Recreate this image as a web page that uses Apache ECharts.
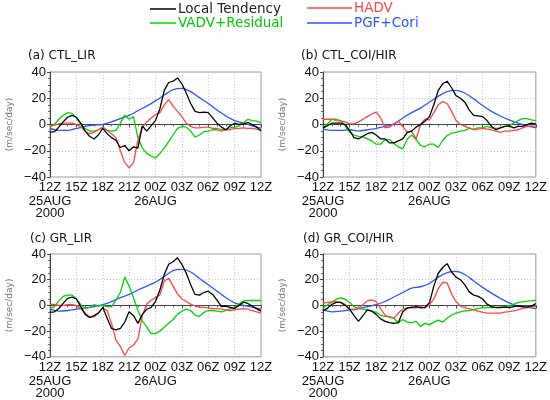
<!DOCTYPE html>
<html>
<head>
<meta charset="utf-8">
<script src="https://cdn.jsdelivr.net/npm/echarts@6.0.0/dist/echarts.min.js"></script>
<style>
html, body { margin: 0; padding: 0; background: #fff; }
#container { width: 550px; height: 400px; }
</style>
</head>
<body>
<div id="container"></div>
<script>
// time axis: hours after 12Z 25AUG 2000
var hoursHalf = [0,0.5,1,1.5,2,2.5,3,3.5,4,4.5,5,5.5,6,6.5,7,7.5,8,8.5,9,9.5,10,10.5,11,11.5,
                 12,12.5,13,13.5,14,14.5,15,15.5,16,16.5,17,17.5,18,18.5,19,19.5,20,20.5,21,21.5,
                 22,22.5,23,23.5,24];
var hoursFull = [0,1,2,3,4,5,6,7,8,9,10,11,12,13,14,15,16,17,18,19,20,21,22,23,24];
var timeLabels = ['12Z', '15Z', '18Z', '21Z', '00Z', '03Z', '06Z', '09Z', '12Z'];
var dateLabels = ['25AUG\n2000', '26AUG', ''];
var seriesNames = ['Local Tendency', 'HADV', 'VADV+Residual', 'PGF+Cori'];
var seriesColors = ['#000000', '#ff4646', '#00d400', '#2f55ff'];
var panelTitles = ['(a) CTL_LIR', '(b) CTL_COI/HIR', '(c) GR_LIR', '(d) GR_COI/HIR'];

//------------------- (a) CTL_LIR -------------------
var aLocal = [-6,-5.5,-2,2,5.5,7,5.5,1,-5,-9,-11,-8,-3,-7,-10,-12,-17.5,-16,-20,-17,-18,-1,-5,-1,
              3,12,26,32,33,35.5,31,24,16,10,9,9.5,9,5,1,-2,-4,-1,1,0,0.5,1.5,0,-2,-5];
var aHadv  = [-1,-0.5,0.5,1,1,1,0,-2,-5,-7,-6,-4,-2,-4.5,-7,-10,-20,-29,-33,-29,-12,-2,2,5,
              7.5,9,15,19,14,10,6,1,-1.5,-2.5,-2.5,-2,-2,-3,-3,-4,-4,-4,-3,-3,-2.5,-3,-3,-3.5,-4];
var aVadv  = [-2,0,4,7,9,8.5,5,0,-3,-5,-5,-4,-2.5,-4.5,-5,-4.5,1,7,4,6,-10,-18,-22,-24,
              -25.5,-22,-18,-13,-8,-3,-1.5,-2,-5,-9.5,-8,-5.5,-5,-4,-4,-5,-4,-2.5,-2,-1,1,4,3,2.5,1.5];
var aPgf   = [-3,-4.5,-4.5,-3,-1.5,-0.5,0,2,4.5,7,10.5,14,18,22.5,26.5,27.5,25,20.5,16,11,6.5,3,1,-1,-3];

//------------------- (b) CTL_COI/HIR -------------------
var bLocal = [-2.5,-1,1,1,1,0,-4.5,-10,-11,-9,-7,-6,-8,-11,-11,-14,-14,-12.5,-11,-6,-5,-2,0,2.5,
              6,15,26,31,33,28,22,20,17,11,7,6.5,6,3,-1.5,-4,-2.5,-1.5,-1,-2.5,-1.5,-1.5,0,1,0.5];
var bHadv  = [4,4,4,3,2.5,2,0.5,0.5,2,4,6,8,9.5,5,-2.5,-2,0.5,2.5,-1.5,-6,-5,-11,0,4,
              3.5,9,15,17.5,16,10,3,0,-1.5,-2.5,-4,-3.5,-3,-3.5,-4,-5,-6,-5,-5,-4.5,-4,-2.5,-1.5,-1,-1.5];
var bVadv  = [-2.5,0.5,4,4,3,-1,-6,-8,-9,-9.5,-11,-12.5,-15,-15,-11.5,-11.5,-14.5,-17,-18.5,-11,-8,-11.5,-16,-17,
              -15,-15,-17.5,-12,-8.5,-6.5,-6,-5,-4.5,-3,-3.5,-2.5,-2.5,-1.5,-2.5,-3,-2.5,-1.5,-1,1,3,4.5,4.5,3.5,3];
var bPgf   = [-3.5,-4.5,-4.5,-4,-5,-4,-3,-1.5,0.5,5,9,12.5,17,21.5,25,26,24,19.5,14.5,10,6.5,3.5,1,-1,-2.5];

//------------------- (c) GR_LIR -------------------
var cLocal = [-5.5,-5,-2.5,1.5,5.5,6.5,5,-1,-7,-9.5,-8,-6,-1.5,-10,-18,-19,-18,-13,-5,-8,-14,-7,-3,-1.5,
              3,12,24,32,34,37,32,25,16,8.5,8,10,11,8.5,4,-1,-0.5,-1.5,-2.5,0,2.5,1.5,-0.5,-2.5,-4.5];
var cHadv  = [0.8,0.8,0,0,0.5,0.5,0,-2.5,-6,-9,-9,-6,-2,-4,-14,-27,-32,-39,-33,-31,-26,-8,1,4,
              6,8,19,21,15,9,5,3,1,-0.5,-1.5,-1.5,-2,-2.5,-2.5,-3,-3.5,-4,-3.5,-3,-2.5,-3,-4,-5,-6];
var cVadv  = [-2.5,-1,3.5,7,8,8,5,0.5,-2.5,-1.5,0.5,-0.5,0,-1,-1,4,10,22,15,6,-4,-12,-17,-22,
              -22,-20,-17,-14,-11,-7,-4.5,-3,-4,-7.5,-8.5,-5.5,-4,-4,-4.5,-5,-4,-2.5,-1.5,1,3.5,3.8,3.8,3.8,3.8];
var cPgf   = [-3,-4.5,-4,-3,-2,-1,0.5,3,6,8.5,12,15,18,22.5,27,28,26,21,16,11,6,2,0,-1.5,-3];

//------------------- (d) GR_COI/HIR -------------------
var dLocal = [-4.3,-2.3,0.8,2.3,2.3,0,-3,-8,-12.5,-8,-3.5,-4.5,-7,-10.5,-12.5,-13.5,-14,-13.5,-5,-2,-1.5,-1,-2,-1.5,
              2,15,25,29.5,32.5,26,22,20,16,10.5,8,7,5,1,-1,-1.8,-1.8,-1.3,-1.8,-1,-0.3,-1,-1.3,-0.5,1.5];
var dHadv  = [1.5,2.3,2.8,3,2.3,0.8,-2.8,-3.5,-2.5,0.5,3.5,4.3,3,-2.5,-7.5,-9.5,-10,-6,-3,-2,-1.8,-2,-1,-2,
              0.3,5,13,18,17.5,9,3,-0.5,-2,-2.5,-3.5,-4.5,-5.5,-6,-6,-6,-6,-5.3,-4.8,-4.3,-3.5,-2.3,-1.8,-1,-1];
var dVadv  = [-2.3,0.3,2.8,4.8,5.8,4.8,2.3,-1,-2.5,-3,-3.5,-4.3,-5.5,-7.5,-8.5,-8.5,-10,-13.5,-11,-13,-13.5,-12.5,-16.5,-14,
              -15,-13,-11.5,-13,-10,-7.5,-6,-5,-4.2,-4,-3.3,-2.3,-1.8,-1.8,-1.8,-1.3,-1.3,-1,-0.3,0.8,2.3,2.8,3.3,3.5,4];
var dPgf   = [-3.5,-5,-4.5,-3.5,-2.5,-1,0.5,3,6.5,10,13.5,14.5,17,22,25.5,26.5,24,19,14,9.5,5.5,2,-0.5,-1.5,-2.5];

var panelData = [
    [aLocal, aHadv, aVadv, aPgf],
    [bLocal, bHadv, bVadv, bPgf],
    [cLocal, cHadv, cVadv, cPgf],
    [dLocal, dHadv, dVadv, dPgf]
];

function toPairs(hours, vals) {
    var res = [];
    for (var i = 0; i < vals.length; i++) {
        res.push([hours[i], vals[i]]);
    }
    return res;
}

var dom = document.getElementById('container');
var myChart = echarts.init(dom, null, { renderer: 'canvas' });
var baseFont = 'DejaVu Sans';
var tickFont = 'Liberation Sans';

// grid boxes (left, top, width, height)
var gridBoxes = [
    { left: 50, top: 72, width: 211, height: 105 },
    { left: 323, top: 72, width: 213, height: 105 },
    { left: 50, top: 254, width: 211, height: 106 },
    { left: 323, top: 254, width: 214, height: 107 }
];
var titlePos = [
    { left: 28, top: 50 },
    { left: 301, top: 50 },
    { left: 30, top: 233 },
    { left: 303, top: 233 }
];

var grids = [], xAxes = [], dateAxes = [], yAxes = [], series = [], titles = [];
for (var p = 0; p < 4; p++) {
    var g = gridBoxes[p];
    grids.push({
        left: g.left, top: g.top, width: g.width, height: g.height,
        show: true, borderColor: '#9a9a9a', borderWidth: 1, backgroundColor: 'transparent'
    });
    titles.push({
        text: panelTitles[p],
        left: titlePos[p].left, top: titlePos[p].top, padding: 0,
        textStyle: { fontFamily: baseFont, fontSize: 12, fontWeight: 'normal', color: '#111' }
    });
    xAxes.push({
        type: 'value', gridIndex: p, min: 0, max: 24, interval: 3,
        axisLine: { show: true, lineStyle: { color: '#444', width: 1 } },
        axisTick: { show: true, length: 3, lineStyle: { color: '#444' } },
        minorTick: { show: true, splitNumber: 3, length: 2, lineStyle: { color: '#666' } },
        splitLine: { show: true, lineStyle: { color: '#c8c8c8', type: [1, 2], width: 1 } },
        axisLabel: {
            fontFamily: tickFont, fontSize: 13, color: '#111', margin: 4,
            showMinLabel: true, showMaxLabel: true, hideOverlap: false,
            formatter: function (v) { return timeLabels[Math.round(v / 3)]; }
        }
    });
    // second row of labels: dates
    dateAxes.push({
        type: 'value', gridIndex: p, min: 0, max: 24, interval: 12, position: 'bottom',
        axisLine: { show: false }, axisTick: { show: false }, splitLine: { show: false },
        axisLabel: {
            fontFamily: tickFont, fontSize: 13, color: '#111', margin: 18, lineHeight: 12.5,
            showMinLabel: true, showMaxLabel: true, hideOverlap: false,
            formatter: function (v) { return dateLabels[Math.round(v / 12)]; }
        }
    });
    yAxes.push({
        type: 'value', gridIndex: p, min: -40, max: 40, interval: 20,
        name: '(m/sec/day)', nameLocation: 'middle', nameGap: 36, nameRotate: 90,
        nameTextStyle: { fontFamily: baseFont, fontSize: 9, color: '#777' },
        axisLine: { show: true, lineStyle: { color: '#444', width: 1 } },
        axisTick: { show: true, length: 3, lineStyle: { color: '#444' } },
        minorTick: { show: true, splitNumber: 4, length: 2, lineStyle: { color: '#666' } },
        splitLine: { show: true, lineStyle: { color: '#c8c8c8', type: [1, 2], width: 1 } },
        axisLabel: {
            fontFamily: tickFont, fontSize: 13, color: '#111', margin: 4,
            formatter: function (v) { return v < 0 ? '\u2212' + (-v) : String(v); }
        }
    });
    for (var s = 0; s < 4; s++) {
        var hrs = (s === 3) ? hoursFull : hoursHalf;
        series.push({
            name: seriesNames[s],
            type: 'line',
            xAxisIndex: p, yAxisIndex: p,
            data: toPairs(hrs, panelData[p][s]),
            symbol: 'none',
            smooth: s === 3 ? 0.3 : false,
            lineStyle: { color: seriesColors[s], width: 1.3 },
            itemStyle: { color: seriesColors[s] },
            z: 10 - s,
            animation: false
        });
    }
}

function legendItem(name, color, left, top, w) {
    return {
        data: [{ name: name, textStyle: { color: color } }],
        left: left, top: top, padding: 0,
        icon: 'rect', itemWidth: w, itemHeight: 1.5, itemGap: 2,
        textStyle: { fontFamily: baseFont, fontSize: 13.5, padding: [0, 0, 0, -3] },
        selectedMode: false
    };
}

option = {
    backgroundColor: '#ffffff',
    animation: false,
    title: titles,
    legend: [
        legendItem('Local Tendency', '#222222', 150, 2, 26),
        legendItem('HADV', '#ff4646', 307, 1, 45),
        legendItem('VADV+Residual', '#00c800', 150, 16, 26),
        legendItem('PGF+Cori', '#2f55ff', 307, 16, 45)
    ],
    grid: grids,
    xAxis: xAxes.concat(dateAxes),
    yAxis: yAxes,
    series: series
};
if (option && typeof option === 'object') {
    myChart.setOption(option, true);
}
</script>
</body>
</html>
